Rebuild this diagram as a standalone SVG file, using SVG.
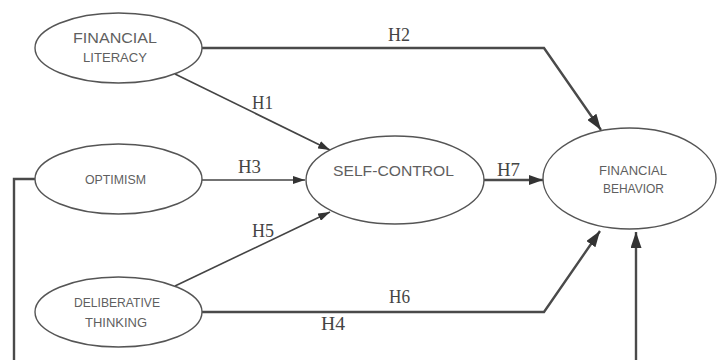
<svg xmlns="http://www.w3.org/2000/svg" width="717" height="360" viewBox="0 0 717 360">
<style>
.node{fill:#ffffff;stroke:#555555;stroke-width:1.4}
.nt{font-family:"Liberation Sans",Arial,sans-serif;fill:#5f5f5f;text-anchor:middle}
.hl{font-family:"Liberation Serif","Times New Roman",serif;font-size:18px;fill:#444444;text-anchor:middle}
.c{fill:none;stroke:#444444;stroke-width:1.6}
.ct{fill:none;stroke:#4a4a4a;stroke-width:2.4}
</style>
<defs>
<marker id="as" markerUnits="userSpaceOnUse" markerWidth="12" markerHeight="8" viewBox="0 0 12 8" refX="12" refY="4" orient="auto">
<path d="M0,0 L12,4 L0,8 Z" fill="#333333"/>
</marker>
<marker id="am" markerUnits="userSpaceOnUse" markerWidth="14" markerHeight="10" viewBox="0 0 14 10" refX="14" refY="5" orient="auto">
<path d="M0,0 L14,5 L0,10 Z" fill="#333333"/>
</marker>
<marker id="al" markerUnits="userSpaceOnUse" markerWidth="16" markerHeight="11" viewBox="0 0 16 11" refX="16" refY="5.5" orient="auto">
<path d="M0,0 L16,5.5 L0,11 Z" fill="#333333"/>
</marker>
</defs>
<rect width="717" height="360" fill="#ffffff"/>
<g id="connectors">
<polyline class="ct" points="202,48 544,48 601,130" marker-end="url(#al)"/>
<line class="c" x1="175" y1="74" x2="330" y2="150" marker-end="url(#as)"/>
<line class="c" x1="202" y1="180" x2="305" y2="180" marker-end="url(#as)"/>
<line class="c" x1="175" y1="286" x2="330" y2="212" marker-end="url(#as)"/>
<polyline class="ct" points="202,312 544,312 600,231" marker-end="url(#al)"/>
<line class="ct" x1="484" y1="180" x2="543" y2="180" marker-end="url(#am)"/>
<polyline class="ct" points="35,179 14,179 14,362"/>
<line class="ct" x1="636" y1="362" x2="636" y2="232" marker-end="url(#al)"/>
<text class="hl" x="399" y="41" textLength="22" lengthAdjust="spacingAndGlyphs">H2</text>
<text class="hl" x="262.5" y="109" textLength="21" lengthAdjust="spacingAndGlyphs">H1</text>
<text class="hl" x="249.5" y="173" textLength="23" lengthAdjust="spacingAndGlyphs">H3</text>
<text class="hl" x="263" y="237" textLength="22" lengthAdjust="spacingAndGlyphs">H5</text>
<text class="hl" x="399.5" y="303" textLength="21" lengthAdjust="spacingAndGlyphs">H6</text>
<text class="hl" x="508.5" y="176" textLength="23" lengthAdjust="spacingAndGlyphs">H7</text>
<text class="hl" x="333" y="330" textLength="24" lengthAdjust="spacingAndGlyphs">H4</text>
</g>
<g id="financial-literacy">
<ellipse class="node" cx="118.5" cy="48" rx="83.5" ry="35"/>
<text class="nt" x="115" y="43" font-size="14" textLength="84" lengthAdjust="spacingAndGlyphs">FINANCIAL</text>
<text class="nt" x="115" y="62" font-size="13" textLength="64" lengthAdjust="spacingAndGlyphs">LITERACY</text>
</g>
<g id="optimism">
<ellipse class="node" cx="118.5" cy="179" rx="83.5" ry="35"/>
<text class="nt" x="115.5" y="184" font-size="12" textLength="61" lengthAdjust="spacingAndGlyphs">OPTIMISM</text>
</g>
<g id="deliberative-thinking">
<ellipse class="node" cx="118.5" cy="312" rx="83.5" ry="35"/>
<text class="nt" x="117" y="307" font-size="13" textLength="86" lengthAdjust="spacingAndGlyphs">DELIBERATIVE</text>
<text class="nt" x="116" y="327" font-size="13" textLength="62" lengthAdjust="spacingAndGlyphs">THINKING</text>
</g>
<g id="self-control">
<ellipse class="node" cx="395" cy="180" rx="89" ry="44"/>
<text class="nt" x="393.5" y="176" font-size="15.5" textLength="121" lengthAdjust="spacingAndGlyphs">SELF-CONTROL</text>
</g>
<g id="financial-behavior">
<ellipse class="node" cx="629.5" cy="178.5" rx="86.5" ry="50.5"/>
<text class="nt" x="633" y="175" font-size="12.5" textLength="68" lengthAdjust="spacingAndGlyphs">FINANCIAL</text>
<text class="nt" x="633.5" y="193" font-size="12" textLength="61" lengthAdjust="spacingAndGlyphs">BEHAVIOR</text>
</g>
</svg>
